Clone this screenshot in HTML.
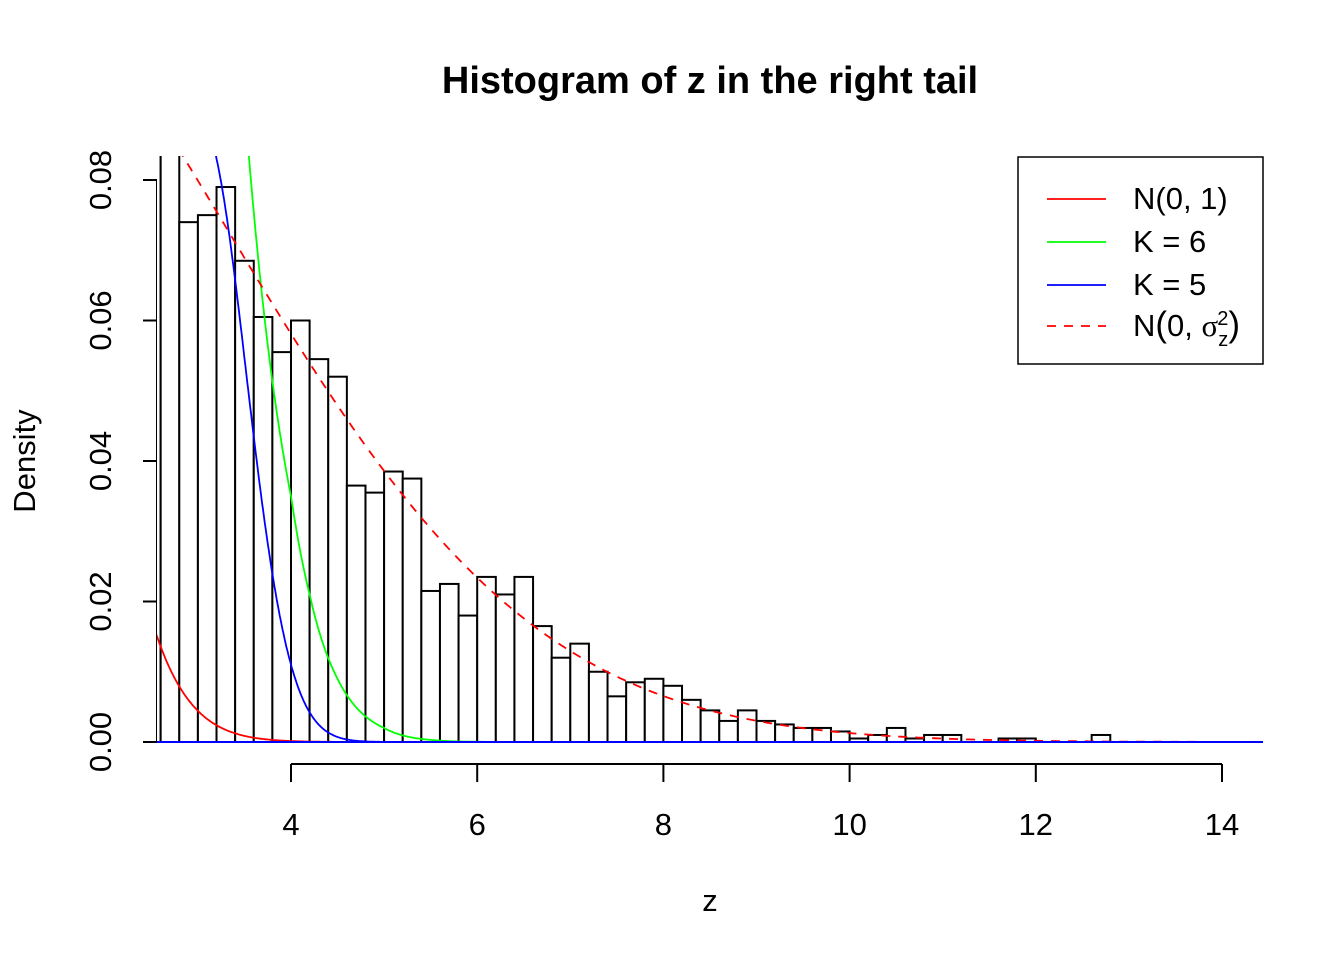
<!DOCTYPE html>
<html><head><meta charset="utf-8"><style>body{margin:0;background:#fff}svg{display:block}text{font-family:"Liberation Sans",Arial,sans-serif}</style></head>
<body>
<svg id="s" width="1344" height="960" xmlns="http://www.w3.org/2000/svg">
<text x="710" y="93" font-size="38" font-weight="bold" text-anchor="middle">Histogram of z in the right tail</text>
<text x="710" y="911" font-size="31" text-anchor="middle">z</text>
<text transform="translate(35,461) rotate(-90)" font-size="31" text-anchor="middle">Density</text>
<g stroke="#000" stroke-width="2">
<line x1="157" y1="742" x2="157" y2="180"/>
<line x1="291" y1="764" x2="1222" y2="764"/>
</g>
<g id="ticks"></g>
<defs><clipPath id="c"><rect x="157" y="156" width="1106" height="587"/></clipPath></defs>
<g id="plot" clip-path="url(#c)"></g>
<rect x="1018" y="157" width="245" height="207" fill="#fff" stroke="#000" stroke-width="1.5"/>
<g stroke-width="1.8">
<line x1="1047" y1="199" x2="1106" y2="199" stroke="#f00"/>
<line x1="1047" y1="242" x2="1106" y2="242" stroke="#0f0"/>
<line x1="1047" y1="285" x2="1106" y2="285" stroke="#00f"/>
<line x1="1047" y1="326" x2="1106" y2="326" stroke="#f00" stroke-dasharray="9,8"/>
</g>
<g font-size="31">
<text x="1133" y="209">N(0, 1)</text>
<text x="1133" y="252">K = 6</text>
<text x="1133" y="295">K = 5</text>
<text x="1133" y="336">N<tspan font-size="35">(</tspan>0, <tspan font-family="Liberation Serif">σ</tspan><tspan font-size="20" dy="10">z</tspan><tspan font-size="20" dx="-11" dy="-21">2</tspan><tspan font-size="35" dy="11">)</tspan></text>
</g>
</svg>
<script>
const NS="http://www.w3.org/2000/svg";
const X=z=>291+(z-4)*93.1, Y=d=>742-d*7025;
function el(p,t,a){const e=document.createElementNS(NS,t);for(const k in a)e.setAttribute(k,a[k]);p.appendChild(e);return e;}
const tk=document.getElementById('ticks'), pl=document.getElementById('plot');
for(let i=0;i<=4;i++){const y=Y(i*0.02);el(tk,'line',{x1:143,y1:y,x2:157,y2:y,stroke:'#000','stroke-width':2});
 const t=el(tk,'text',{transform:`translate(111,${y}) rotate(-90)`,'font-size':31,'text-anchor':'middle'});t.textContent=(i*0.02).toFixed(2);}
for(let z=4;z<=14;z+=2){const x=X(z);el(tk,'line',{x1:x,y1:764,x2:x,y2:782,stroke:'#000','stroke-width':2});
 const t=el(tk,'text',{x:x,y:835,'font-size':31,'text-anchor':'middle'});t.textContent=z;}
const h=[0.2,0.074,0.075,0.079,0.0685,0.0605,0.0555,0.060,0.0545,0.052,0.0365,0.0355,0.0385,0.0375,0.0215,0.0225,0.018,0.0235,0.021,0.0235,0.0165,0.012,0.014,0.010,0.0065,0.0085,0.009,0.008,0.006,0.0045,0.003,0.0045,0.003,0.0025,0.002,0.002,0.0015,0.0005,0.001,0.002,0.0005,0.001,0.001,0,0,0.0005,0.0005,0,0,0,0.001];
el(pl,'rect',{x:X(2.4),y:Y(0.2),width:X(2.6)-X(2.4),height:Y(0)-Y(0.2),fill:'#fff',stroke:'#000','stroke-width':2});
h.forEach((v,i)=>{const z=2.6+i*0.2;el(pl,'rect',{x:X(z),y:Y(v),width:X(z+0.2)-X(z),height:Y(0)-Y(v),fill:'#fff',stroke:'#000','stroke-width':2});});
function path(f,c,dash){let d='';for(let z=2.5;z<=14.6;z+=0.01){d+=(d?'L':'M')+X(z).toFixed(1)+','+Y(f(z)).toFixed(1);}
 const a={d:d,fill:'none',stroke:c,'stroke-width':1.8};if(dash)a['stroke-dasharray']=dash;el(pl,'path',a);}
function interp(pts){return z=>{if(z<=pts[0][0]){const[a,b]=[pts[0],pts[1]];const s=(Math.log(b[1])-Math.log(a[1]))/(b[0]-a[0]);return Math.exp(Math.log(a[1])+s*(z-a[0]));}
 for(let i=0;i<pts.length-1;i++){const a=pts[i],b=pts[i+1];if(z<=b[0]){const t=(z-a[0])/(b[0]-a[0]);return Math.exp(Math.log(a[1])*(1-t)+Math.log(b[1])*t);}}
 const a=pts[pts.length-2],b=pts[pts.length-1];const s=(Math.log(b[1])-Math.log(a[1]))/(b[0]-a[0]);return Math.exp(Math.log(b[1])+s*(z-b[0]));};}
const dn=(z,s)=>Math.exp(-z*z/(2*s*s))/(s*Math.sqrt(2*Math.PI));
path(z=>dn(z,1),'#f00');
path(interp([[3.4,0.12],[3.55,0.083],[4.0,0.035],[4.2,0.021],[4.5,0.009],[5,0.002],[5.5,0.0003],[6,0.00003]]),'#0f0');
path(z=>{let u=z-3.7;if(u<-0.5){const l=-3.411-2.979*(-0.5)-2.27*0.25,s=-2.979+2.27;return Math.exp(l+s*(u+0.5)*1.5);}return Math.exp(-3.411-2.979*u-2.27*u*u);},'#00f');
path(z=>dn(z,3.315),'#f00','9,8');
el(pl,'line',{x1:157,y1:742,x2:1263,y2:742,stroke:'#00f','stroke-width':2});
</script>
</body></html>
